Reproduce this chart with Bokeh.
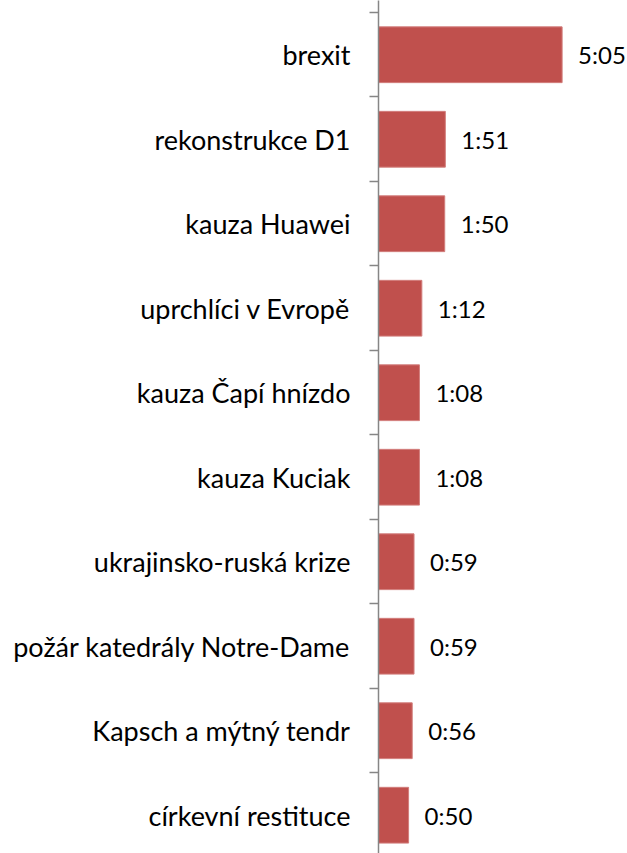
from bokeh.plotting import figure
from bokeh.models import Range1d, FixedTicker, ColumnDataSource
from bokeh.core.properties import value
from bokeh.embed import file_html
from bokeh.resources import INLINE

categories = ["brexit", "rekonstrukce D1", "kauza Huawei", "uprchlíci v Evropě",
              "kauza Čapí hnízdo", "kauza Kuciak", "ukrajinsko-ruská krize",
              "požár katedrály Notre-Dame", "Kapsch a mýtný tendr", "církevní restituce"]
durations = ["5:05", "1:51", "1:50", "1:12", "1:08", "1:08", "0:59", "0:59", "0:56", "0:50"]

seconds = [int(d.split(":")[0]) * 60 + int(d.split(":")[1]) for d in durations]
pos = list(range(len(categories)))

src = ColumnDataSource(dict(y=pos, sec=seconds, lab=durations))

FONT = "Lato"
p = figure(width=627, height=853, output_backend="svg", toolbar_location=None,
           x_range=Range1d(0, 413.6), y_range=Range1d(9.453, -0.642),
           x_axis_location=None, min_border_left=378, min_border_right=0,
           min_border_top=0, min_border_bottom=0)
p.outline_line_color = None
p.xgrid.visible = False
p.ygrid.visible = False

ax = p.yaxis[0]
ax.ticker = FixedTicker(ticks=pos, minor_ticks=[i - 0.5 for i in range(len(categories) + 1)])
ax.major_label_overrides = {i: c for i, c in zip(pos, categories)}
ax.major_tick_out = 0
ax.major_tick_in = 0
ax.minor_tick_out = 9
ax.minor_tick_in = 0
ax.minor_tick_line_color = "#868686"
ax.minor_tick_line_width = 1.5
ax.axis_line_color = "#868686"
ax.axis_line_width = 1.5
ax.major_label_standoff = 19
ax.major_label_text_font = FONT
ax.major_label_text_font_size = "27px"
ax.major_label_text_color = "#000000"

p.hbar(y="y", left=0, right="sec", height=0.66, source=src,
       fill_color="#C0504D", line_color="#D27E7C", line_width=1)
p.text(x="sec", y="y", text="lab", source=src, x_offset=16,
       text_baseline="middle", text_align="left",
       text_font=value(FONT), text_font_size="24px", text_color="#000000")

open("out.html", "w").write(file_html(p, INLINE))
